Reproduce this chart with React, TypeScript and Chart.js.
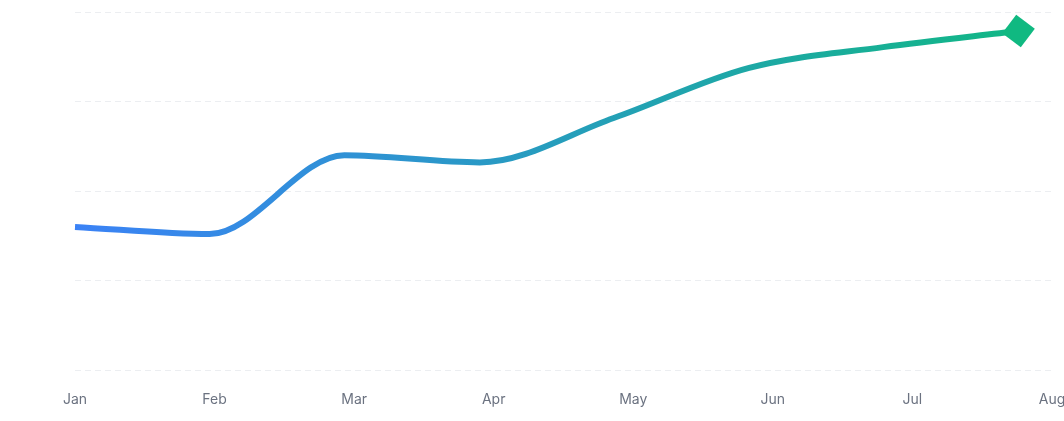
import React, { useEffect, useRef } from "react";
import { Chart, registerables } from "chart.js";

Chart.register(...registerables);

const monthLabels = ["Jan", "Feb", "Mar", "Apr", "May", "Jun", "Jul", "Aug"];
const pointPositions = [0, 0.965, 1.93, 2.9, 3.86, 4.83, 5.79, 6.76];
const seriesValues = [40, 38, 60, 58, 70.4, 84.4, 90.2, 94.7];
const yTicks = [0, 25, 50, 75, 100];

const endMarkerPlugin = {
  id: "endMarker",
  afterDatasetsDraw(chart: any) {
    const meta = chart.getDatasetMeta(0);
    const pt = meta.data[meta.data.length - 1];
    if (!pt) return;
    const ctx = chart.ctx;
    const r = 16.5;
    const side = r * Math.SQRT2;
    ctx.save();
    ctx.translate(pt.x, pt.y);
    ctx.rotate(((45 - 8) * Math.PI) / 180);
    ctx.fillStyle = "#10b981";
    ctx.fillRect(-side / 2, -side / 2, side, side);
    ctx.restore();
  },
};

export default function App() {
  const canvasRef = useRef<HTMLCanvasElement | null>(null);

  useEffect(() => {
    document.body.style.margin = "0";
    const canvas = canvasRef.current;
    if (!canvas) return;
    const chart = new Chart(canvas, {
      type: "line",
      data: {
        datasets: [
          {
            data: seriesValues.map((v, i) => ({ x: pointPositions[i], y: v })),
            borderColor: (ctx: any) => {
              const area = ctx.chart.chartArea;
              if (!area) return "#3b82f6";
              const g = ctx.chart.ctx.createLinearGradient(area.left, 0, area.right, 0);
              g.addColorStop(0, "#3b82f6");
              g.addColorStop(1, "#10b981");
              return g;
            },
            borderWidth: 6,
            cubicInterpolationMode: "monotone",
            pointRadius: 0,
            pointHoverRadius: 0,
            fill: false,
            clip: false,
          },
        ],
      },
      plugins: [endMarkerPlugin],
      options: {
        animation: false,
        responsive: true,
        maintainAspectRatio: false,
        layout: { padding: { left: 75, right: 12, top: 12, bottom: 0 } },
        plugins: { legend: { display: false }, tooltip: { enabled: false } },
        scales: {
          x: {
            type: "linear",
            min: 0,
            max: monthLabels.length - 1,
            grid: { display: false },
            border: { display: false },
            afterFit: (scale: any) => {
              scale.paddingLeft = 0;
              scale.paddingRight = 0;
            },
            ticks: {
              stepSize: 1,
              autoSkip: false,
              maxRotation: 0,
              padding: 13,
              color: "#6b7280",
              font: { family: "Inter", size: 14 },
              callback: (v: any) => monthLabels[Math.round(Number(v))] ?? "",
            },
          },
          y: {
            min: yTicks[0],
            max: yTicks[yTicks.length - 1],
            afterBuildTicks: (scale: any) => {
              scale.ticks = yTicks.map((v) => ({ value: v }));
            },
            afterFit: (scale: any) => {
              scale.paddingTop = 0;
              scale.paddingBottom = 0;
            },
            grid: { color: "#eceef1", lineWidth: 1, drawTicks: false },
            border: { display: false, dash: [6, 4] },
            ticks: { display: false },
          },
        },
      },
    });
    return () => chart.destroy();
  }, []);

  return (
    <div style={{ width: 1064, height: 421, position: "relative" }}>
      <canvas ref={canvasRef} />
    </div>
  );
}
